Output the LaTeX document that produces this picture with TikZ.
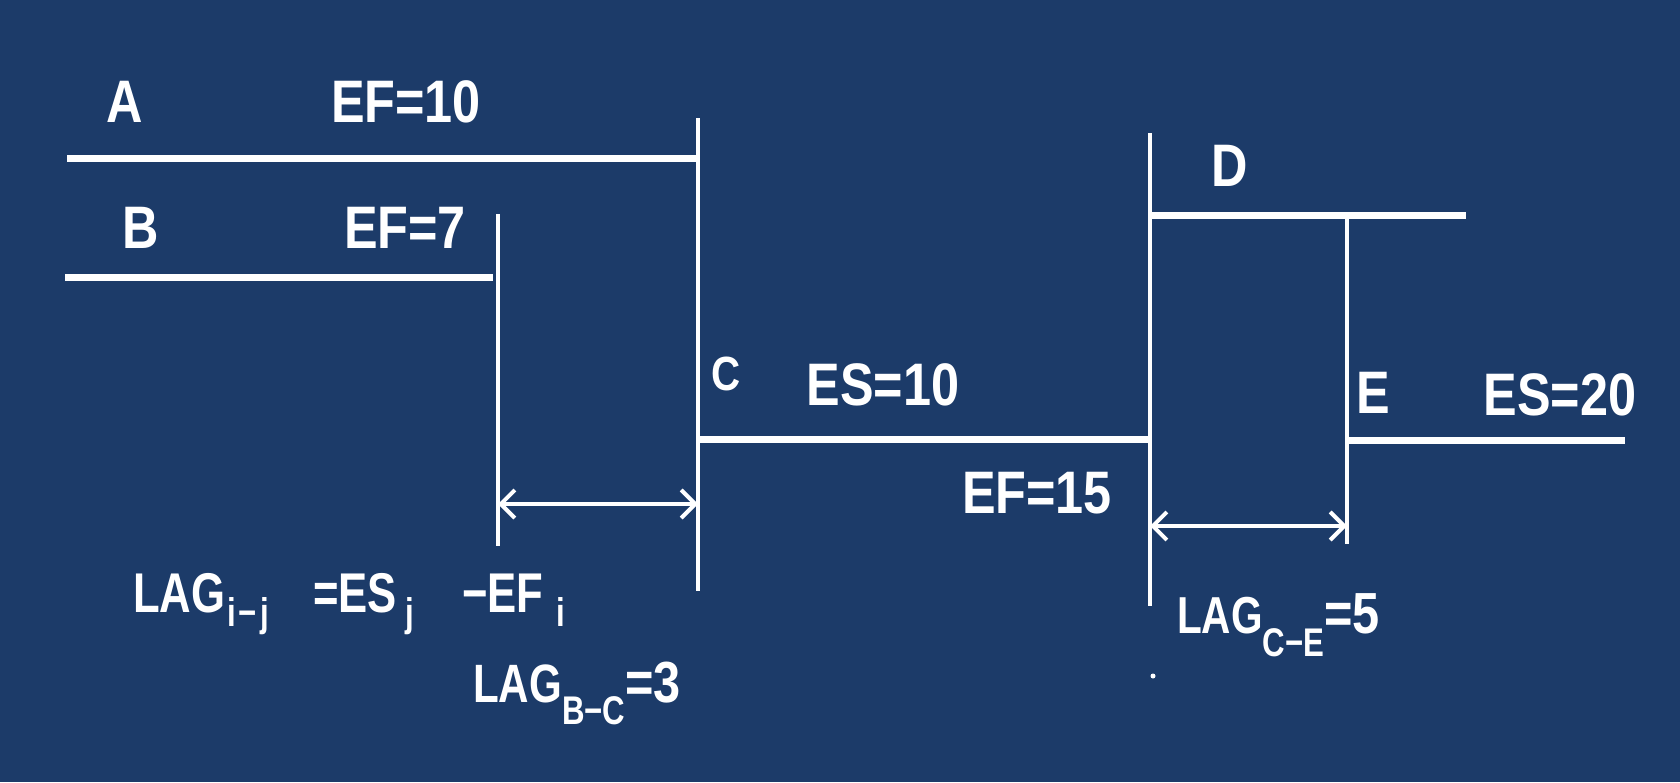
\documentclass[tikz,border=0pt]{standalone}
\usepackage{fontspec}
\setmainfont{Liberation Sans}
\newfontfamily\labfont[FakeStretch=0.84]{Liberation Sans}
\newfontfamily\lagfont[FakeStretch=0.78]{Liberation Sans}
\usetikzlibrary{arrows.meta}
\definecolor{bg}{RGB}{28,59,105}
\newcommand{\lsub}[2]{\raisebox{-#2}{\fontsize{40}{40}\selectfont #1}}
\newcommand{\eqv}[1]{{\labfont\bfseries\fontsize{58}{58}\selectfont #1}}
\begin{document}
\begin{tikzpicture}[x=1pt,y=-1pt,
  bar/.style={draw=white, line width=7pt},
  post/.style={draw=white, line width=4.5pt},
  dim/.style={draw=white, line width=4pt, {Straight Barb[length=14pt,width=28pt]}-{Straight Barb[length=14pt,width=28pt]}},
  lab/.style={text=white, inner sep=0pt, anchor=base, font=\labfont\bfseries\fontsize{60}{60}\selectfont},
  lag/.style={text=white, inner sep=0pt, anchor=base west, font=\lagfont\bfseries\fontsize{54}{54}\selectfont},
  sublab/.style={text=white, inner sep=0pt, anchor=base west, font=\lagfont\bfseries\fontsize{40}{40}\selectfont}]
\fill[bg] (0,0) rectangle (1680,782);
\useasboundingbox (0,0) rectangle (1680,782);
% coordinates
\coordinate (a0) at (67,158);   \coordinate (a1) at (698,158);
\coordinate (v1t) at (698,118); \coordinate (v1b) at (698,591);
\coordinate (b0) at (65,277);   \coordinate (b1) at (493,277);
\coordinate (v2t) at (498,214); \coordinate (v2b) at (498,546);
\coordinate (c0) at (698,439);  \coordinate (c1) at (1150,439);
\coordinate (v3t) at (1150,133);\coordinate (v3b) at (1150,606);
\coordinate (d0) at (1150,215); \coordinate (d1) at (1466,215);
\coordinate (v4t) at (1347,217);\coordinate (v4b) at (1347,544);
\coordinate (e0) at (1347,440); \coordinate (e1) at (1625,440);
\coordinate (g0) at (498,504);  \coordinate (g1) at (698,504);
\coordinate (h0) at (1150,526); \coordinate (h1) at (1347,526);
% bars and posts
\draw[bar] (a0) -- (a1);
\draw[bar] (b0) -- (b1);
\draw[bar] (c0) -- (c1);
\draw[bar] (d0) -- (d1);
\draw[bar] (e0) -- (e1);
\draw[post] (v1t) -- (v1b);
\draw[post] (v2t) -- (v2b);
\draw[post] (v3t) -- (v3b);
\draw[post] (v4t) -- (v4b);
\draw[dim] (g0) -- (g1);
\draw[dim] (h0) -- (h1);
\fill[white] (1153,676) circle (2.5);
% labels
\node[lab] (tA) at (125,122) {A};
\node[lab] (tEFa) at (406,122) {EF=10};
\node[lab] (tB) at (141,248) {B};
\node[lab] (tEFb) at (405,248) {EF=7};
\node[lab, font=\labfont\bfseries\fontsize{48}{48}\selectfont] (tC) at (726,390) {C};
\node[lab] (tESc) at (883,405) {ES=10};
\node[lab] (tD) at (1230,186) {D};
\node[lab] (tE) at (1373,413) {E};
\node[lab] (tESe) at (1560,415) {ES=20};
\node[lab] (tEFc) at (1037,513) {EF=15};
% formula
\node[lag, font=\lagfont\bfseries\fontsize{56}{56}\selectfont] (f1) at (133,612) {LAG};
\node[sublab] (f2) at (227,626) {i\hspace{3pt}−\hspace{3pt}j};
\node[lag, font=\lagfont\bfseries\fontsize{56}{56}\selectfont] (f3) at (313,612) {=ES};
\node[sublab] (f4) at (405,626) {j};
\node[lag, font=\lagfont\bfseries\fontsize{56}{56}\selectfont] (f5) at (462,612) {−EF};
\node[sublab] (f6) at (556,626) {i};
% lag values
\node[lag] (lbc) at (473,702) {LAG\lsub{B−C}{22pt}\eqv{=3}};
\node[lag, font=\lagfont\bfseries\fontsize{52}{52}\selectfont] (lce) at (1177,633) {LAG\lsub{C−E}{23pt}\eqv{=5}};
\end{tikzpicture}
\end{document}
